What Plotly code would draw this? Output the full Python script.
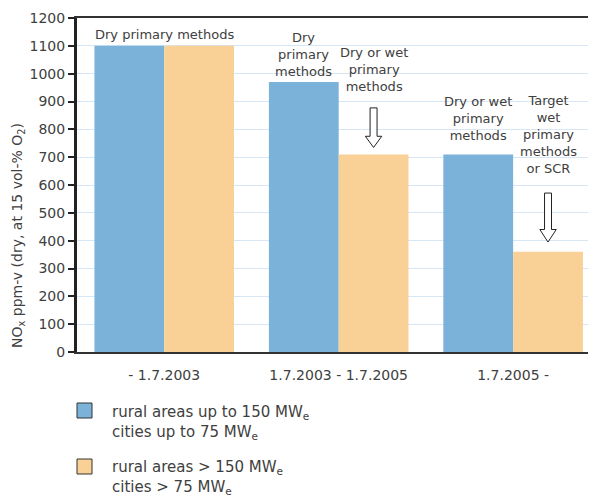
import plotly.graph_objects as go

periods = ["- 1.7.2003", "1.7.2003 - 1.7.2005", "1.7.2005 -"]
small_plants = [1100, 970, 710]
large_plants = [1100, 710, 360]
series_names = [
    "rural areas up to 150 MW<sub>e</sub><br>cities up to 75 MW<sub>e</sub>",
    "rural areas > 150 MW<sub>e</sub><br>cities > 75 MW<sub>e</sub>",
]
colors = ["#7BB2DA", "#F9D095"]

font_family = "DejaVu Sans, Arial, sans-serif"
text_color = "#404040"

fig = go.Figure()
fig.add_trace(go.Bar(x=[0, 1, 2], y=small_plants, name=series_names[0],
                     marker=dict(color=colors[0], line=dict(width=0))))
fig.add_trace(go.Bar(x=[0, 1, 2], y=large_plants, name=series_names[1],
                     marker=dict(color=colors[1], line=dict(width=0))))

# labels over bars
labels = [
    (0.0, 1105, "Dry primary methods"),
    (0.8, 972, "Dry<br>primary<br>methods"),
    (1.2, 920, "Dry or wet<br>primary<br>methods"),
    (1.8, 745, "Dry or wet<br>primary<br>methods"),
    (2.2, 625, "Target<br>wet<br>primary<br>methods<br>or SCR"),
]
for x, y, t in labels:
    fig.add_annotation(x=x, y=y, xref="x", yref="y", text=t, showarrow=False,
                       yanchor="bottom", xanchor="center",
                       font=dict(size=13, color=text_color, family=font_family))


# hollow down arrows
def arrow(xc, ytop, ytip, yhead):
    sw, hw = 0.02, 0.047
    return (f"M {xc-sw},{ytop} L {xc+sw},{ytop} L {xc+sw},{yhead} L {xc+hw},{yhead} "
            f"L {xc},{ytip} L {xc-hw},{yhead} L {xc-sw},{yhead} Z")


for xc, ytop, ytip, yhead in [(1.2, 877, 735, 775), (2.2, 571, 395, 440)]:
    fig.add_shape(type="path", path=arrow(xc, ytop, ytip, yhead), xref="x", yref="y",
                  fillcolor="white", line=dict(color="#222222", width=1))

# y axis title, placed like the original (below centre)
fig.add_annotation(xref="paper", yref="paper", x=-59 / 519, y=(352 - 236) / 334,
                   text="NO<sub>x</sub> ppm-v (dry, at 15 vol-% O<sub>2</sub>)",
                   textangle=-90, showarrow=False, xanchor="center", yanchor="middle",
                   font=dict(size=14, color=text_color, family=font_family))

# legend (plot area spans y 18..352 px, x 77..596 px on screen)
legend_rows = [(403, 418, 401), (459, 474, 456)]
for i, (y0, y1, ty) in enumerate(legend_rows):
    fig.add_shape(type="rect", xref="paper", yref="paper",
                  x0=0, x1=15 / 519, y0=(352 - y1) / 334, y1=(352 - y0) / 334,
                  fillcolor=colors[i], line=dict(color="#333333", width=1))
    fig.add_annotation(xref="paper", yref="paper", x=33 / 519, y=(352 - ty) / 334,
                       text=series_names[i], showarrow=False, xanchor="left",
                       yanchor="top", align="left",
                       font=dict(size=15, color=text_color, family=font_family))

# page body adds an 8px margin, so the figure is 8px smaller than the window
fig.update_layout(
    width=588,
    height=491,
    margin=dict(l=69, r=0, t=10, b=147),
    plot_bgcolor="white",
    paper_bgcolor="white",
    barmode="group",
    bargap=0.2,
    bargroupgap=0,
    showlegend=False,
    font=dict(family=font_family, size=14, color=text_color),
    xaxis=dict(
        tickmode="array", tickvals=[0, 1, 2], ticktext=periods,
        range=[-0.5, 2.475], showline=True, linecolor="#333333", linewidth=2,
        mirror=True, showgrid=False, ticks="", zeroline=False, automargin=False,
        tickfont=dict(size=14), ticklabelstandoff=9,
    ),
    yaxis=dict(
        range=[0, 1200], dtick=100, showline=True, linecolor="#222222", linewidth=3,
        ticks="outside", ticklen=6, tickcolor="#222222", tickwidth=2,
        gridcolor="#D6E6F4", gridwidth=1, zeroline=False, automargin=False,
        tickfont=dict(size=14),
    ),
)

fig.write_html("out.html")
